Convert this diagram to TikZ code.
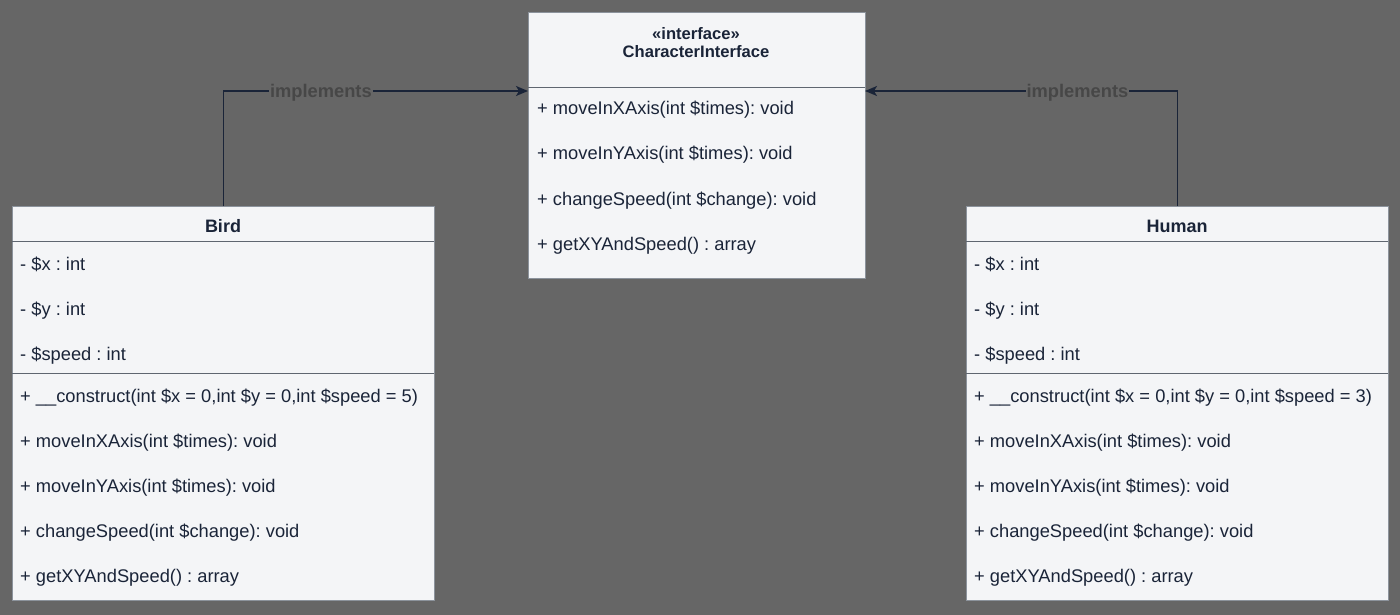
\documentclass[tikz,border=0pt]{standalone}
\usepackage{fontspec}
\setmainfont{Liberation Sans}
\usetikzlibrary{arrows.meta}

\definecolor{bggray}{HTML}{666666}
\definecolor{boxfill}{HTML}{F4F5F7}
\definecolor{boxline}{HTML}{8C939C}
\definecolor{sepline}{HTML}{5F6670}
\definecolor{navy}{HTML}{1A2438}
\definecolor{implgray}{HTML}{474747}

\begin{document}
\frenchspacing
\begin{tikzpicture}[x=1pt,y=-1pt,
  classbox/.style={draw=boxline,fill=boxfill,line width=0.8pt,anchor=north west,inner sep=0pt,minimum width=422pt,minimum height=394pt},
  member/.style={anchor=base west,inner sep=0pt,text=navy,font=\fontsize{18.3}{20}\selectfont},
  classname/.style={anchor=base,inner sep=0pt,text=navy,font=\fontsize{18}{20}\selectfont\bfseries},
  stereotype/.style={classname,font=\fontsize{16.6}{20}\selectfont\bfseries},
  separator/.style={draw=sepline,line width=1pt},
  implements/.style={draw=navy,line width=1.5pt,-{Stealth[length=12pt,width=10pt,inset=3pt]}},
  impllabel/.style={fill=bggray,inner sep=1pt,yshift=-2pt,text=implgray,font=\fontsize{18.3}{20}\selectfont\bfseries}]

%background
\fill[bggray] (0,0) rectangle (1400,615);

%interface
\node[classbox,minimum width=337pt,minimum height=266pt] (iface) at (528,12) {};
\draw[separator] (528,88) -- (865,88);
\node[stereotype] (ifacestereo) at (696,40) {«interface»};
\node[stereotype] (ifacename) at (696,57.5) {CharacterInterface};
\foreach \txt [count=\i] in {+ moveInXAxis(int \$times): void,
  + moveInYAxis(int \$times): void,
  + changeSpeed(int \$change): void,
  + getXYAndSpeed() : array}
  \node[member] (ifaceop\i) at (537,70+45*\i) {\txt};

%bird
\node[classbox] (bird) at (12,206) {};
\node[classname] (birdname) at (223,232.7) {Bird};
\draw[separator] (12,241.5) -- (434,241.5);
\draw[separator] (12,373) -- (434,373);
\foreach \txt [count=\i] in {- \$x : int, - \$y : int, - \$speed : int}
  \node[member] (birdattr\i) at (20,225+45*\i) {\txt};
\foreach \txt [count=\i] in {{+ \_\_construct(int \$x = 0,int \$y = 0,int \$speed = 5)},
  + moveInXAxis(int \$times): void,
  + moveInYAxis(int \$times): void,
  + changeSpeed(int \$change): void,
  + getXYAndSpeed() : array}
  \node[member] (birdop\i) at (20,357+45*\i) {\txt};

%human
\node[classbox] (human) at (966,206) {};
\node[classname] (humanname) at (1177,232.7) {Human};
\draw[separator] (966,241.5) -- (1388,241.5);
\draw[separator] (966,373) -- (1388,373);
\foreach \txt [count=\i] in {- \$x : int, - \$y : int, - \$speed : int}
  \node[member] (humanattr\i) at (974,225+45*\i) {\txt};
\foreach \txt [count=\i] in {{+ \_\_construct(int \$x = 0,int \$y = 0,int \$speed = 3)},
  + moveInXAxis(int \$times): void,
  + moveInYAxis(int \$times): void,
  + changeSpeed(int \$change): void,
  + getXYAndSpeed() : array}
  \node[member] (humanop\i) at (974,357+45*\i) {\txt};

%implements arrows
\coordinate (ifin) at (528,91);
\coordinate (ifout) at (865,91);
\draw[implements] (bird.north) |- node[impllabel,pos=0.66] {implements} (ifin);
\draw[implements] (human.north) |- node[impllabel,pos=0.66] {implements} (ifout);

\end{tikzpicture}
\end{document}
